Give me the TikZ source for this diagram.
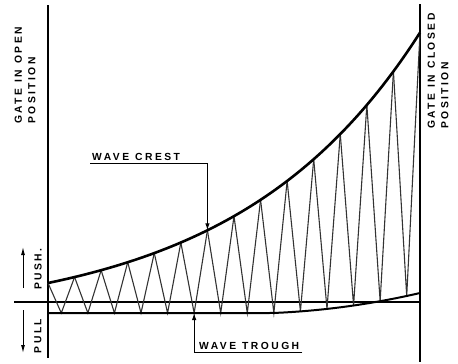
\documentclass[tikz,border=0pt]{standalone}
\usepackage{fontspec}
\newfontfamily\lblfont[LetterSpace=24]{Liberation Sans Bold}
\newcommand\wgap{\hspace{6pt}}
\usetikzlibrary{arrows.meta}

\begin{document}
\begin{tikzpicture}[
  x=1pt, y=-1pt,
  declare function={
    crestY(\t)=283-38.3*(exp(2.02*(\t-48)/372)-1);
    tpos(\t)=max(0,(\t-273)/147);
    troughY(\t)=313-20*(0.3*tpos(\t)+0.7*tpos(\t)*tpos(\t));
  },
  crest/.style={line width=2.6pt, line join=round},
  trough/.style={line width=2pt},
  gate/.style={line width=1.5pt},
  axis/.style={line width=1.2pt},
  zig/.style={line width=1.1pt, black!80},
  lbl/.style={font=\lblfont\fontsize{10.3}{13.5}\selectfont, inner sep=0pt},
  side/.style={lbl, rotate=90, anchor=west, align=left},
  lead/.style={line width=1pt, -{Latex[length=7pt,width=4.5pt]}},
  force/.style={line width=1pt, -{Latex[length=8pt,width=4pt]}}
]
\useasboundingbox (0,0) rectangle (458,364);

% gate positions and zero line
\draw[gate] (48,5) -- (48,358);
\draw[gate] (420,4) -- (420,362);
\draw[axis] (14,302) -- (420,302);

% zigzag between crest and trough
\foreach \k in {0,...,14}
  \coordinate (c\k) at ({48+26.571*\k},{crestY(48+26.571*\k)});
\foreach \k in {0,...,13}
  \coordinate (t\k) at ({48+26.571*(\k+0.5)},{troughY(48+26.571*(\k+0.5))});
\foreach \k [evaluate=\k as \n using int(\k+1)] in {0,...,13}
  \draw[zig] (c\k) -- (t\k) -- (c\n);

% envelopes
\draw[crest] plot[domain=48:420, samples=80] (\x,{crestY(\x)});
\draw[trough] plot[domain=48:420, samples=80] (\x,{troughY(\x)});

% gate labels
\node[side] (opengate) at (25,124) {GATE\wgap IN\wgap OPEN\\POSITION};
\node[side] (closegate) at (438,129) {GATE\wgap IN\wgap CLOSED\\POSITION};

% push / pull
\node[lbl, rotate=90] (push) at (38,269) {PUSH.};
\node[lbl, rotate=90] (pull) at (38,336) {PULL};
\coordinate (pushtail) at (23,288);
\coordinate (pushtip) at (23,247);
\coordinate (pulltail) at (23,310);
\coordinate (pulltip) at (23,353);
\draw[force] (pushtail) -- (pushtip);
\draw[force] (pulltail) -- (pulltip);

% wave crest / wave trough
\node[lbl, anchor=south west, inner xsep=2pt, inner ysep=2.5pt] (crestlbl) at (90,163) {WAVE\wgap CREST};
\draw[lead] (crestlbl.south west) -| (c6);
\node[lbl, anchor=south west, inner xsep=3pt, inner ysep=2.5pt] (troughlbl) at (196,352) {WAVE\wgap TROUGH};
\draw[lead] (troughlbl.south east) -| (t5);
\end{tikzpicture}
\end{document}
